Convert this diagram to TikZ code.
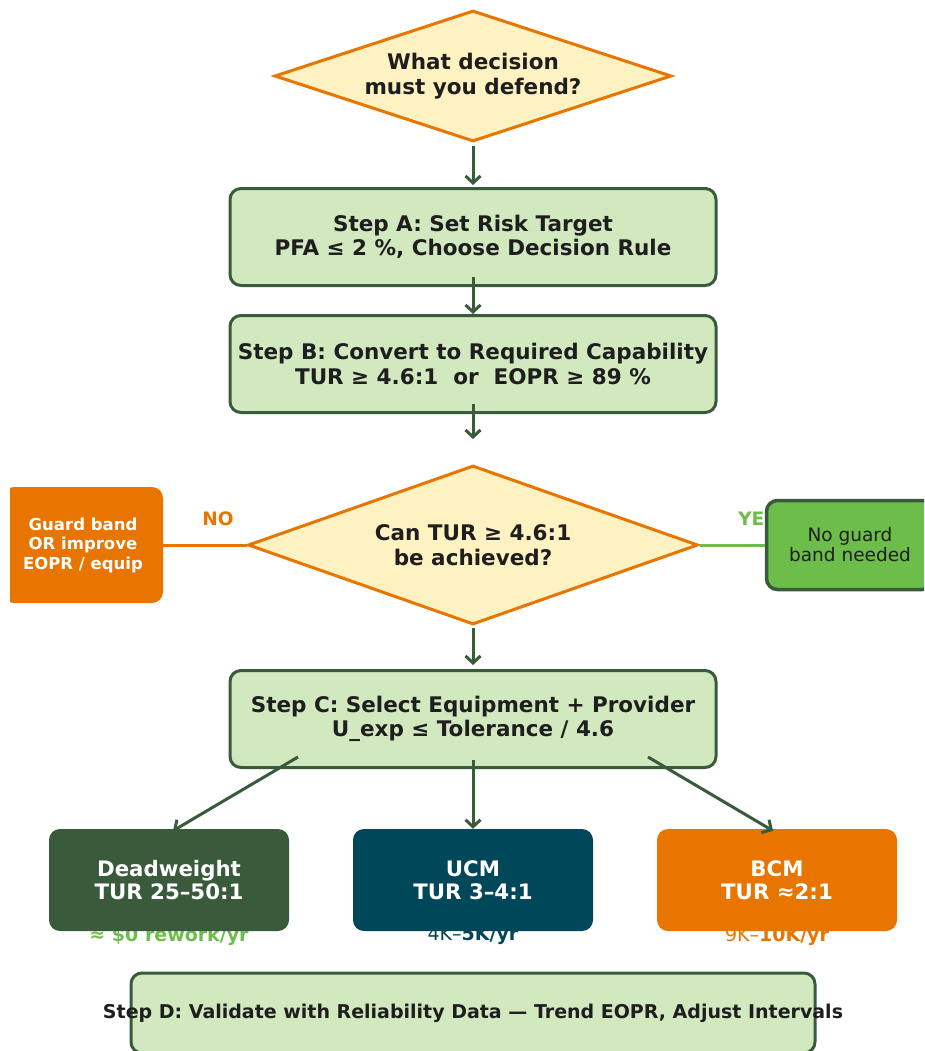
\documentclass[tikz,border=0pt]{standalone}
\usepackage{fontspec}
\setmainfont{DejaVu Sans}
\usetikzlibrary{shapes.geometric,arrows.meta}
\definecolor{dkgreen}{HTML}{3A5A3C}
\definecolor{ltgreen}{HTML}{D2E8BF}
\definecolor{brgreen}{HTML}{6CBD4A}
\definecolor{orng}{HTML}{E87500}
\definecolor{cream}{HTML}{FFF2C2}
\definecolor{teal}{HTML}{00475A}
\definecolor{ink}{HTML}{1E1E1E}
\begin{document}
\begin{tikzpicture}[x=1pt,y=-1pt,>={Straight Barb[length=7pt,width=15pt]},
    stepbox/.style={draw=dkgreen,fill=ltgreen,line width=3pt,rounded corners=11pt,
        minimum width=486pt,minimum height=97pt,align=center,text=ink,
        font=\bfseries\fontsize{21.5}{24.5}\selectfont},
    ask/.style={diamond,draw=orng,fill=cream,line width=3pt,inner sep=0pt,align=center,
        text=ink,font=\bfseries\fontsize{21.5}{24.5}\selectfont},
    sidebox/.style={rounded corners=11pt,align=center,minimum height=112pt,
        font=\fontsize{18.5}{20}\selectfont},
    costbox/.style={rounded corners=11pt,align=center,minimum width=240pt,minimum height=102pt,
        text=white,font=\bfseries\fontsize{21.3}{23}\selectfont},
    cost/.style={font=\bfseries\fontsize{19}{21}\selectfont},
    arr/.style={->,draw=dkgreen,line width=3pt}]
\useasboundingbox (0,0) rectangle (924,1051);
\clip (10,0) rectangle (924,1051);
% question at the top
\node[ask,minimum width=397pt,minimum height=131pt,aspect=3] (q1) at (473,76)
    {What decision\\must you defend?};
\node[stepbox] (A) at (473,237) {Step A: Set Risk Target\\PFA ≤ 2 \%, Choose Decision Rule};
\node[stepbox] (B) at (473,364) {Step B: Convert to Required Capability\\TUR ≥ 4.6:1\ \ or\ \ EOPR ≥ 89 \%};
\node[ask,minimum width=450pt,minimum height=159pt,aspect=2.8] (q2) at (473,545)
    {Can TUR ≥ 4.6:1\\be achieved?};
% the two answers
\node[sidebox,fill=orng,text=white,font=\bfseries\fontsize{16.5}{19.5}\selectfont,
    minimum width=160pt,minimum height=116pt] (gb) at (83,545) {Guard band\\OR improve\\EOPR / equip};
\node[text=orng,font=\bfseries\fontsize{18.5}{20}\selectfont] (no) at (218,519) {NO};
\node[text=brgreen,font=\bfseries\fontsize{18.5}{20}\selectfont] (yes) at (758,519) {YES};
\node[sidebox,draw=dkgreen,line width=3.5pt,fill=brgreen,text=ink,
    minimum width=167pt,minimum height=89pt] (ng) at (850,545) {No guard\\band needed};
\draw[orng,line width=3pt] (q2.west) -- (gb.east);
\draw[brgreen,line width=3pt] (q2.east) -- (ng.west);
\node[stepbox] (C) at (473,719) {Step C: Select Equipment + Provider\\U\_exp ≤ Tolerance / 4.6};
% cost notes sit behind the boxes
\node[cost,text=brgreen] (c1) at (169,936) {≈ \$0 rework/yr};
\node[cost,text=teal] (c2) at (473,936) {{\mdseries 4K–}5K/yr};
\node[cost,text=orng] (c3) at (777,936) {{\mdseries 9K–}10K/yr};
\node[costbox,fill=dkgreen] (dw) at (169,880) {Deadweight\\TUR 25–50:1};
\node[costbox,fill=teal] (ucm) at (473,880) {UCM\\TUR 3–4:1};
\node[costbox,fill=orng] (bcm) at (777,880) {BCM\\TUR ≈2:1};
\node[stepbox,minimum width=684pt,minimum height=80pt,font=\bfseries\fontsize{19}{21}\selectfont]
    (D) at (473,1013) {\makebox[0pt]{Step D: Validate with Reliability Data — Trend EOPR, Adjust Intervals}};
% arrows
\draw[arr,shorten <=3pt,shorten >=2pt] (q1.south) -- (A.north);
\draw[arr,shorten <=-10pt] (A.south) -- (B.north);
\draw[arr,shorten <=-10pt,shorten >=25pt] (B.south) -- (q2.north);
\draw[arr,shorten <=2pt,shorten >=4pt] (q2.south) -- (C.north);
\draw[arr] ([xshift=-175pt,yshift=12pt]C.south) -- ([xshift=4pt,yshift=-2pt]dw.north);
\draw[arr,shorten <=-9pt] (C.south) -- (ucm.north);
\draw[arr] ([xshift=175pt,yshift=12pt]C.south) -- ([xshift=-4pt,yshift=-2pt]bcm.north);
\end{tikzpicture}
\end{document}
